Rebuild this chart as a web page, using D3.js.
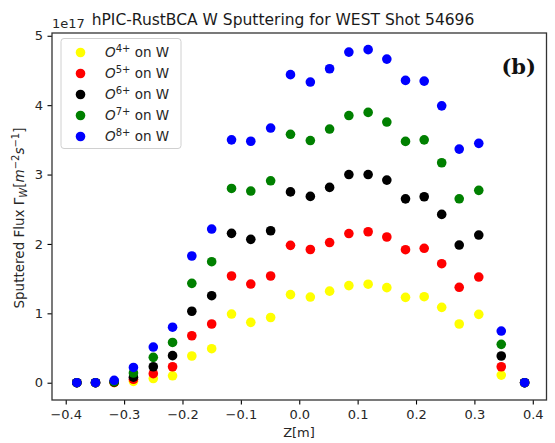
<!DOCTYPE html>
<html><head><meta charset="utf-8">
<script src="https://cdn.jsdelivr.net/npm/d3@7"></script>
<style>body{margin:0;background:#fff}svg{display:block}text{font-family:"DejaVu Sans",sans-serif}</style>
</head><body><svg id="c" width="555" height="443"></svg>
<script>
const zPos = [-0.381,-0.349,-0.317,-0.284,-0.250,-0.217,-0.184,-0.150,-0.116,-0.083,-0.049,-0.015,0.019,0.052,0.085,0.118,0.150,0.182,0.214,0.244,0.274,0.3075,0.346,0.386];
const o4 = [0,0,0.0,0.02,0.06,0.10,0.385,0.49,0.99,0.87,0.94,1.27,1.235,1.32,1.40,1.42,1.37,1.23,1.24,1.086,0.846,0.985,0.11,0];
const o5 = [0,0,0.005,0.05,0.13,0.23,0.677,0.846,1.538,1.422,1.538,1.98,1.92,2.02,2.15,2.176,2.10,1.917,1.937,1.715,1.375,1.523,0.23,0];
const o6 = [0,0,0.01,0.08,0.23,0.39,1.03,1.254,2.153,2.066,2.19,2.75,2.685,2.815,3.0,3.0,2.92,2.65,2.68,2.426,1.984,2.128,0.385,0];
const o7 = [0,0,0.015,0.14,0.366,0.58,1.432,1.744,2.80,2.762,2.91,3.58,3.49,3.656,3.85,3.896,3.757,3.478,3.50,3.17,2.651,2.772,0.553,0];
const o8 = [0,0,0.035,0.22,0.514,0.80,1.826,2.215,3.50,3.48,3.67,4.44,4.333,4.525,4.765,4.80,4.664,4.357,4.347,3.99,3.367,3.45,0.745,0];
const seriesNames = ["4+","5+","6+","7+","8+"];
const seriesColors = ["#ffff00","#ff0000","#000000","#008000","#0000ff"];
const seriesData = [o4,o5,o6,o7,o8];
const xTicks = [-0.4,-0.3,-0.2,-0.1,0.0,0.1,0.2,0.3,0.4];
const yTicks = [0,1,2,3,4,5];

const svg = d3.select("#c");
const L=52, R=546.5, T=33, B=400;
const x = d3.scaleLinear().domain([-0.4235,0.4235]).range([L,R]);
const y = d3.scaleLinear().domain([-0.249,5.04]).range([B,T]);

const gx = svg.append("g").attr("transform",`translate(0,${B})`)
  .call(d3.axisBottom(x).tickValues(xTicks).tickSize(4.5).tickPadding(5)
    .tickFormat(d=>d3.format(".1f")(d).replace("-","\u2212")));
const gy = svg.append("g").attr("transform",`translate(${L},0)`)
  .call(d3.axisLeft(y).tickValues(yTicks).tickSize(4.5).tickPadding(4.5).tickFormat(d3.format("d")));
[gx,gy].forEach(g=>{
  g.select(".domain").remove();
  g.selectAll("line").attr("stroke","#000").attr("stroke-width",1.1);
  g.selectAll("text").attr("fill","#262626").style("font-size","13px").style("font-family","DejaVu Sans");
});

const plot = svg.append("g");
seriesData.forEach((arr,i)=>{
  plot.selectAll(null).data(arr.map((v,j)=>[zPos[j],v])).enter().append("circle")
    .attr("cx",d=>x(d[0])).attr("cy",d=>y(d[1])).attr("r",4.8).attr("fill",seriesColors[i]);
});

svg.append("rect").attr("x",L).attr("y",T).attr("width",R-L).attr("height",B-T)
  .attr("fill","none").attr("stroke","#333").attr("stroke-width",1.3);

// legend
const lg = svg.append("g");
lg.append("rect").attr("x",61).attr("y",38.5).attr("width",120).attr("height",110).attr("rx",3)
  .attr("fill","#fff").attr("fill-opacity",0.8).attr("stroke","#d0d0d0").attr("stroke-width",1);
seriesNames.forEach((n,i)=>{
  const cy = 52.5 + i*21;
  lg.append("circle").attr("cx",80.5).attr("cy",cy).attr("r",4.8).attr("fill",seriesColors[i]);
  const t = lg.append("text").attr("x",105).attr("y",cy+4.5).attr("fill","#262626").style("font-size","13.5px");
  t.append("tspan").text("O").style("font-style","italic");
  t.append("tspan").text(n).attr("dy",-5.5).style("font-size","10px");
  t.append("tspan").text(" on W").attr("dy",5.5);
});

// title
svg.append("text").attr("x",283).attr("y",25).attr("text-anchor","middle").attr("fill","#1a1a1a")
  .style("font-size","15.5px").text("hPIC-RustBCA W Sputtering for WEST Shot 54696");
svg.append("text").attr("x",52).attr("y",28).attr("fill","#262626").style("font-size","13px").text("1e17");

// (b)
svg.append("text").attr("x",536).attr("y",74).attr("text-anchor","end").attr("fill","#111")
  .style("font-family","DejaVu Serif").style("font-weight","bold").style("font-size","21px").text("(b)");

// axis labels
svg.append("text").attr("x",299).attr("y",437).attr("text-anchor","middle").attr("fill","#262626")
  .style("font-size","13px").text("Z[m]");
const yl = svg.append("text").attr("transform","translate(24,218) rotate(-90)").attr("text-anchor","middle")
  .attr("fill","#262626").style("font-size","13.5px");
yl.append("tspan").text("Sputtered Flux \u0393");
yl.append("tspan").text("W").attr("dy",3).style("font-size","10px").style("font-style","italic");
yl.append("tspan").text("[").attr("dy",-3);
yl.append("tspan").text("m").style("font-style","italic");
yl.append("tspan").text("\u22122").attr("dy",-5).style("font-size","10px");
yl.append("tspan").text("s").attr("dy",5).style("font-style","italic");
yl.append("tspan").text("\u22121").attr("dy",-5).style("font-size","10px");
yl.append("tspan").text("]").attr("dy",5);
</script></body></html>
